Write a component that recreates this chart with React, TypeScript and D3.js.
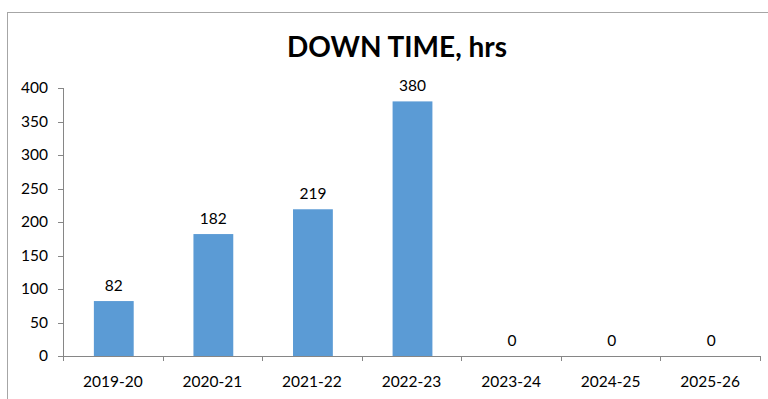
import React from "react";
import * as d3 from "d3";

const categories = ["2019-20", "2020-21", "2021-22", "2022-23", "2023-24", "2024-25", "2025-26"];
const values = [82, 182, 219, 380, 0, 0, 0];
const yTicks = [0, 50, 100, 150, 200, 250, 300, 350, 400];
const title = "DOWN TIME, hrs";

export default function App() {
  const W = 768, H = 399;
  const left = 63, right = 760, top = 88, bottom = 356;
  const x = d3.scaleBand<string>().domain(categories).range([left + 1, right + 1]).paddingInner(0.6).paddingOuter(0.3);
  const xb = d3.scaleBand<string>().domain(categories).range([left, right]);
  const y = d3.scaleLinear().domain([0, 400]).range([bottom, top]);
  const font = "Lato, 'Open Sans', sans-serif";
  const axisColor = "#868686";
  const fs = 15.5;
  return (
    <svg width={W} height={H} style={{ position: "absolute", left: 0, top: 0, background: "#fff" }} fontFamily={font}>
      <rect x={7.5} y={12.5} width={W + 10} height={H + 10} fill="#fff" stroke="#a6a6a6" strokeWidth={1} />
      <text x={397} y={57} textAnchor="middle" fontSize={28} fontWeight="bold" fill="#000">{title}</text>
      <line x1={left + 0.5} x2={left + 0.5} y1={top} y2={bottom} stroke={axisColor} />
      {yTicks.map(t => (
        <g key={t}>
          <line x1={left - 5} x2={left} y1={Math.round(y(t)) + 0.5} y2={Math.round(y(t)) + 0.5} stroke={axisColor} />
          <text x={48} y={y(t)} dy="0.35em" textAnchor="end" fontSize={fs} fill="#000">{t}</text>
        </g>
      ))}
      {categories.map((c, i) => (
        <g key={c}>
          <rect x={x(c)} y={y(values[i])} width={x.bandwidth()} height={bottom - y(values[i])} fill="#5B9BD5" />
          <text x={x(c)! + x.bandwidth() / 2} y={y(values[i]) - 10} textAnchor="middle" fontSize={fs} fill="#000">{values[i]}</text>
          <text x={xb(c)! + xb.bandwidth() / 2} y={387} textAnchor="middle" fontSize={fs} fill="#000">{c}</text>
        </g>
      ))}
      <line x1={left} x2={right} y1={bottom + 0.5} y2={bottom + 0.5} stroke={axisColor} />
      {categories.concat([""]).map((c, i) => {
        const px = Math.round(left + i * xb.bandwidth()) + 0.5;
        return <line key={i} x1={px} x2={px} y1={bottom} y2={bottom + 5} stroke={axisColor} />;
      })}
    </svg>
  );
}
